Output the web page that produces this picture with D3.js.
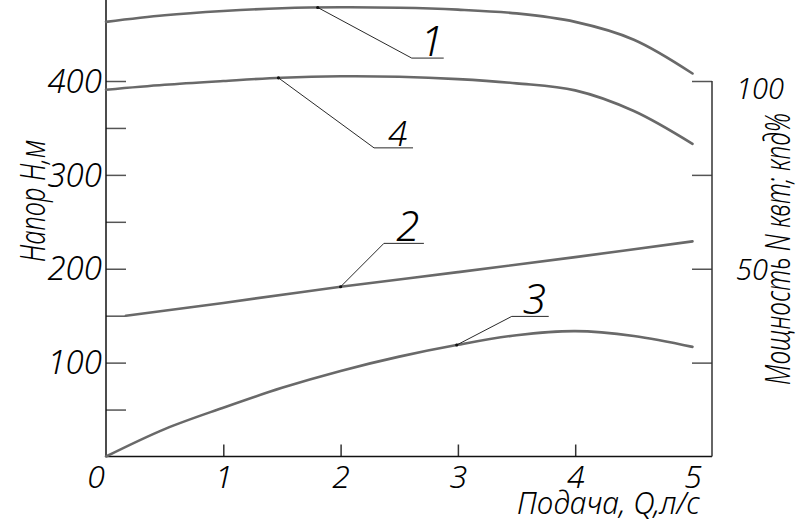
<!DOCTYPE html>
<html><head><meta charset="utf-8">
<script src="https://cdn.jsdelivr.net/npm/d3@7"></script>
<style>
body{margin:0;background:#fff}
text{font-family:"Noto Sans",sans-serif;font-style:italic;font-weight:300;fill:#000}
</style></head>
<body><svg id="c" width="802" height="523"></svg>
<script>
// ---- data ----
const q = [0, 0.5, 1, 1.5, 2, 2.5, 3, 3.5, 4, 4.5, 5];           // Подача Q, л/с
const head1 = [463, 470, 474.5, 477.5, 478.5, 478, 476, 472, 463, 444, 408]; // curve 1, H, м
const head4 = [390.7, 396, 400, 403.5, 405, 404.5, 402, 397.5, 390, 368, 333]; // curve 4, H, м
const qPower = [0.17, 1, 2, 3, 4, 5];
const power2 = [37.5, 40.9, 45.2, 49.1, 53.1, 57.3];               // curve 2, N (right axis)
const eff3 = [0, 7.3, 13.0, 18.3, 22.8, 26.6, 29.75, 32.3, 33.4, 32.1, 29.2]; // curve 3, кпд % (right axis)
const xTicks = [1, 2, 3, 4, 5];
const leftTicks = [50, 100, 150, 200, 250, 300, 350, 400];
const leftLabels = [100, 200, 300, 400];
const rightTicks = [25, 50, 75, 100];
const rightLabels = [50, 100];
const curveLabels = ["1", "4", "2", "3"];
const anchorQ = [1.805, 1.47, 2.0, 2.99];
const titleX = "Подача, Q,л/с";
const titleLeft = "Напор H,м";
const titleRight = "Мощность N квт; кпд%";

// ---- layout ----
const svg = d3.select("#c");
const x0 = 106, xAxisEnd = 712, yBase = 456.5, yTop = 81;
const x = d3.scaleLinear().domain([0, 5]).range([x0, 692.5]);
const yL = d3.scaleLinear().domain([0, 400]).range([yBase, yTop]);
const yR = d3.scaleLinear().domain([0, 100]).range([yBase, yTop]);

// ticks + labels via axes
const axL = d3.axisLeft(yL).tickValues(leftTicks).tickSizeInner(-20).tickSizeOuter(0).tickPadding(4)
  .tickFormat(d => leftLabels.includes(d) ? d : "");
const gL = svg.append("g").attr("transform", `translate(${x0},0)`).call(axL);
gL.select(".domain").remove();
gL.selectAll(".tick line").attr("stroke", "#555").attr("stroke-width", 1.5);
gL.selectAll(".tick text").style("font-size", "33px").attr("dy", "0.34em");

const axR = d3.axisRight(yR).tickValues(rightTicks).tickSizeInner(-20).tickSizeOuter(0).tickPadding(24)
  .tickFormat(d => rightLabels.includes(d) ? d : "");
const gR = svg.append("g").attr("transform", `translate(${xAxisEnd},0)`).call(axR);
gR.select(".domain").remove();
gR.selectAll(".tick line").attr("stroke", "#555").attr("stroke-width", 1.5);
gR.selectAll(".tick text").style("font-size", "29px").attr("dy", d => d === 100 ? "0.6em" : "0.36em");

const axB = d3.axisBottom(x).tickValues(xTicks).tickSizeInner(-12).tickSizeOuter(0).tickPadding(8)
  .tickFormat(d3.format("d"));
const gB = svg.append("g").attr("transform", `translate(0,${yBase})`).call(axB);
gB.select(".domain").remove();
gB.selectAll(".tick line").attr("stroke", "#333").attr("stroke-width", 1.5)
  .filter(d => d === 5).remove();
gB.selectAll(".tick text").style("font-size", "32px").attr("dy", "0.72em");

// axis lines
svg.append("line").attr("x1", x0).attr("x2", x0).attr("y1", 0).attr("y2", yBase)
  .attr("stroke", "#111").attr("stroke-width", 1.5);
svg.append("line").attr("x1", x0).attr("x2", xAxisEnd).attr("y1", yBase).attr("y2", yBase)
  .attr("stroke", "#111").attr("stroke-width", 1.5);
svg.append("line").attr("x1", xAxisEnd).attr("x2", xAxisEnd).attr("y1", yTop).attr("y2", yBase)
  .attr("stroke", "#333").attr("stroke-width", 1.5);

// origin label
svg.append("text").attr("x", x0 - 1).attr("y", yBase + 8).attr("dy", "0.72em")
  .attr("text-anchor", "end").style("font-size", "32px").text("0");

// titles
svg.append("text").attr("x", 700).attr("y", 514).attr("text-anchor", "end")
  .style("font-size", "32px").attr("textLength", 183).attr("lengthAdjust", "spacingAndGlyphs").text(titleX);
svg.append("text").attr("transform", "translate(45,262) rotate(-90)")
  .style("font-size", "35px").attr("textLength", 122).attr("lengthAdjust", "spacingAndGlyphs").text(titleLeft);
svg.append("text").attr("transform", "translate(790,385) rotate(-90)")
  .style("font-size", "34px").attr("textLength", 272).attr("lengthAdjust", "spacingAndGlyphs").text(titleRight);

// curves
const line = (xs, ys, yS) => d3.line().curve(d3.curveCatmullRom.alpha(0.5))
  .x((d, i) => x(xs[i])).y((d, i) => yS(ys[i]))(ys);
const curves = [
  {xs: q, ys: head1, s: yL},
  {xs: q, ys: head4, s: yL},
  {xs: qPower, ys: power2, s: yR},
  {xs: q, ys: eff3, s: yR}
];
const paths = curves.map(c => svg.append("path").attr("d", line(c.xs, c.ys, c.s))
  .attr("fill", "none").attr("stroke", "#696969").attr("stroke-width", 2.6).attr("stroke-linecap", "round").node());

// leaders
const leaderOff = [[94, 50.6, 32], [95.6, 70, 39], [43.3, -43.4, 40], [55, -28.6, 37]];
const labelSize = [42, 35, 42, 42];
function pointAtX(path, px) {
  let lo = 0, hi = path.getTotalLength();
  for (let k = 0; k < 40; k++) {
    const mid = (lo + hi) / 2;
    if (path.getPointAtLength(mid).x < px) lo = mid; else hi = mid;
  }
  return path.getPointAtLength((lo + hi) / 2);
}
curveLabels.forEach((lab, i) => {
  const p = pointAtX(paths[i], x(anchorQ[i]));
  const [dx, dy, hl] = leaderOff[i];
  const bx = p.x + dx, by = p.y + dy;
  svg.append("polyline").attr("points", `${p.x},${p.y} ${bx},${by} ${bx + hl},${by}`)
    .attr("fill", "none").attr("stroke", "#111").attr("stroke-width", 0.9);
  svg.append("circle").attr("cx", p.x).attr("cy", p.y).attr("r", 1.6).attr("fill", "#111");
  svg.append("text").attr("x", bx + hl / 2 + 4).attr("y", by - 2).attr("text-anchor", "middle")
    .style("font-size", labelSize[i] + "px").text(lab);
});
</script></body></html>
